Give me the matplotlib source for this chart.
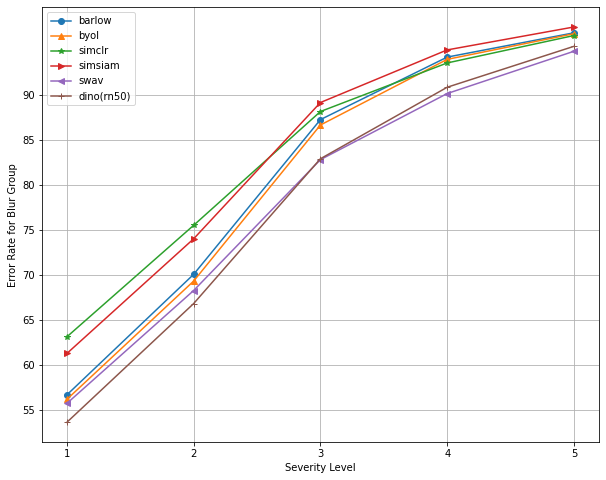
from matplotlib import pyplot as plt
import numpy as np

severity = [1, 2, 3, 4, 5]

# Error rates
barlow = [56.7, 70.1, 87.3, 94.25, 96.95]
byol = [56.2, 69.35, 86.7, 94.0, 96.85]
simclr = [63.15, 75.55, 88.2, 93.6, 96.65]
simsiam = [61.3, 74.05, 89.2, 95.05, 97.6]
swav = [55.75, 68.3, 82.85, 90.2, 94.9]
dino = [53.65, 66.85, 82.95, 90.9, 95.45]

plt.figure(figsize=(606/72, 480/72), dpi=72)
plt.plot(severity, barlow, marker='o', label='barlow')
plt.plot(severity, byol, marker='^', label='byol')
plt.plot(severity, simclr, marker='*', label='simclr')
plt.plot(severity, simsiam, marker='>', label='simsiam')
plt.plot(severity, swav, marker='<', label='swav')
plt.plot(severity, dino, marker='+', label='dino(rn50)')
plt.xticks(severity)
plt.yticks(np.arange(55, 95, 5))
plt.xlabel('Severity Level')
plt.ylabel('Error Rate for Blur Group')
plt.grid()
plt.legend(loc='upper left')
plt.subplots_adjust(left=0.0685, right=0.989, bottom=0.079, top=0.985)
plt.savefig('out.png')
